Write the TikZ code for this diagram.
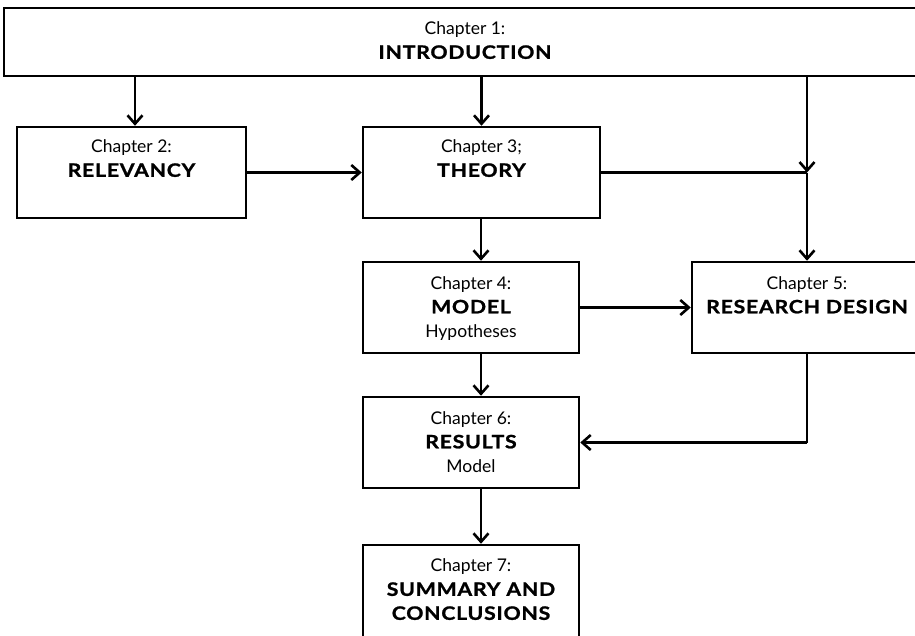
\documentclass[tikz,border=0pt]{standalone}
\usepackage{fontspec}
\setmainfont{Lato}
\newfontfamily\heavy{Lato}[FakeStretch=1.15,LetterSpace=4,BoldFeatures={FakeBold=1.2}]
\newcommand{\hv}[1]{{\heavy\bfseries\fontsize{18.5}{24}\selectfont #1}}
\usetikzlibrary{arrows.meta}
\begin{document}
\begin{tikzpicture}[x=1pt,y=-1pt,
  box/.style={draw,line width=2.5pt,inner sep=0pt},
  lbl/.style={align=center,inner sep=0pt,anchor=north,font=\fontsize{17.5}{24}\selectfont},
  arr/.style={line width=2.3pt,-{Straight Barb[length=8.5pt,width=15pt,line width=2.6pt]}},
  ln/.style={line width=2.3pt}]
\useasboundingbox (0,0) rectangle (915,635);
\node[box,minimum width=922pt,minimum height=68pt] (intro) at (465,42) {};
\node[box,minimum width=229pt,minimum height=91pt] (ch2) at (131.5,172.5) {};
\node[box,minimum width=237pt,minimum height=91pt] (ch3) at (481.5,172.5) {};
\node[box,minimum width=216pt,minimum height=91pt] (ch4) at (471,307.5) {};
\node[box,minimum width=230pt,minimum height=91pt] (ch5) at (807,307.5) {};
\node[box,minimum width=216pt,minimum height=91pt] (ch6) at (471,442.5) {};
\node[box,minimum width=216pt,minimum height=110pt] (ch7) at (471,600) {};
\node[lbl] (t1) at ([yshift=-15pt]intro.north) {Chapter 1:\\\hv{INTRODUCTION}};
\node[lbl] (t2) at ([yshift=-14pt]ch2.north) {Chapter 2:\\\hv{RELEVANCY}};
\node[lbl] (t3) at ([yshift=-14pt]ch3.north) {Chapter 3;\\\hv{THEORY}};
\node[lbl] (t4) at ([yshift=-15.5pt]ch4.north) {Chapter 4:\\\hv{MODEL}\\Hypotheses};
\node[lbl] (t5) at ([yshift=-15.5pt]ch5.north) {Chapter 5:\\\hv{RESEARCH DESIGN}};
\node[lbl] (t6) at ([yshift=-15.5pt]ch6.north) {Chapter 6:\\\hv{RESULTS}\\Model};
\node[lbl] (t7) at ([yshift=-15pt]ch7.north) {Chapter 7:\\\hv{SUMMARY AND}\\\hv{CONCLUSIONS}};
\coordinate (j1) at (807,172.5);
\coordinate (j2) at (807,442.5);
\draw[arr] (intro.south -| ch2.north) ++(3.5,0) coordinate (a2) -- (a2 |- ch2.north);
\draw[arr] (intro.south -| ch3.north) -- (ch3.north);
\draw[arr] (intro.south -| j1) -- (j1);
\draw[arr] (j1) -- (ch5.north);
\draw[ln] (ch3.east) -- (j1);
\draw[arr] (ch2.east) -- (ch3.west);
\draw[arr] (ch3.south) ++(-0.5,0) coordinate (a3) -- (a3 |- ch4.north);
\draw[arr] (ch4.east) -- (ch5.west);
\draw[arr] (a3 |- ch4.south) -- (a3 |- ch6.north);
\draw[arr] (a3 |- ch6.south) -- (a3 |- ch7.north);
\draw[ln] (ch5.south) -- (j2);
\draw[arr] (j2) -- (ch6.east);
\end{tikzpicture}
\end{document}
